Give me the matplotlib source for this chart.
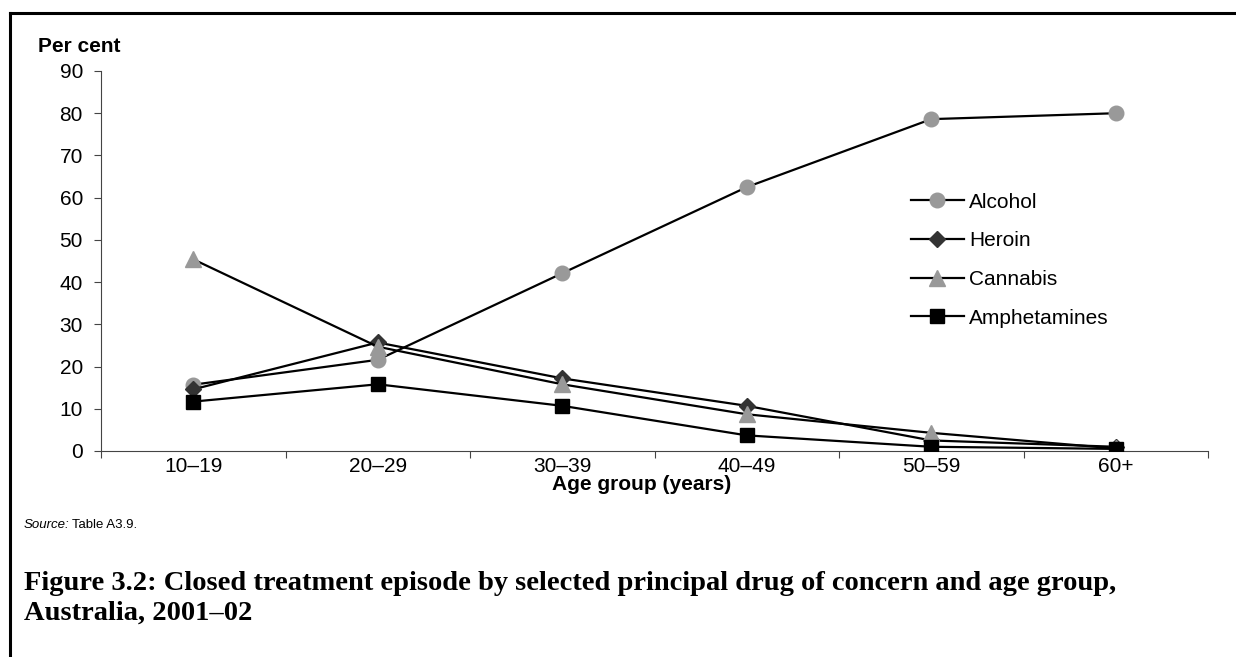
import numpy as np
import matplotlib.pyplot as plt
from matplotlib.lines import Line2D

plt.rcParams['font.family'] = ['Liberation Sans', 'DejaVu Sans']

# donnees
age_groups = ['10–19', '20–29', '30–39', '40–49', '50–59', '60+']
alcohol = [15.7, 21.6, 42.1, 62.5, 78.6, 80.0]
heroin = [14.6, 25.7, 17.2, 10.7, 2.5, 1.0]
cannabis = [45.4, 24.7, 15.8, 8.7, 4.3, 0.6]
amphetamines = [11.7, 15.8, 10.7, 3.7, 1.0, 0.5]

W, H = 1236, 657
fs = 15
fig = plt.figure(figsize=(W / 100, H / 100), dpi=100)
ax = fig.add_axes([101 / W, 1 - 451 / H, (1208 - 101) / W, 380 / H])

x = np.arange(len(age_groups))
ax.plot(x, alcohol, color='black', lw=1.6, marker='o', ms=10.5,
        mfc='#999999', mec='#999999', label='Alcohol', zorder=3)
ax.plot(x, heroin, color='black', lw=1.6, marker='D', ms=8,
        mfc='#333333', mec='#333333', label='Heroin', zorder=3)
ax.plot(x, cannabis, color='black', lw=1.6, marker='^', ms=11,
        mfc='#999999', mec='#999999', label='Cannabis', zorder=3)
ax.plot(x, amphetamines, color='black', lw=1.6, marker='s', ms=10,
        mfc='black', mec='black', label='Amphetamines', zorder=3)

ax.set_xlim(-0.5, len(age_groups) - 0.5)
ax.set_ylim(0, 90)
ax.set_yticks(np.arange(0, 91, 10))
ax.set_xticks(x)
ax.set_xticklabels(age_groups)
ax.set_xticks(np.arange(-0.5, len(age_groups)), minor=True)
ax.tick_params(axis='x', which='major', length=0, pad=4, labelsize=fs)
ax.tick_params(axis='x', which='minor', length=5, width=0.8, color='#444444')
ax.tick_params(axis='y', length=5, width=0.8, color='#444444', labelsize=fs, pad=8)

for s in ['top', 'right']:
    ax.spines[s].set_visible(False)
ax.spines['left'].set_color('#444444')
ax.spines['bottom'].set_color('#444444')
ax.spines['left'].set_linewidth(0.8)
ax.spines['bottom'].set_linewidth(0.8)

fig.text(38 / W, 1 - 46 / H, 'Per cent', fontsize=fs, fontweight='bold', va='center')
fig.text(642 / W, 1 - 485 / H, 'Age group (years)', fontsize=fs, fontweight='bold',
         ha='center', va='center')

ax.legend(loc='upper left', bbox_to_anchor=(892 / W, 1 - 174 / H),
          bbox_transform=fig.transFigure, frameon=False, fontsize=fs,
          handlelength=2.55, handletextpad=0.25, labelspacing=0.94)

fig.text(24 / W, 1 - 525 / H, 'Source:', fontsize=9.5, style='italic', va='center')
fig.text(72 / W, 1 - 525 / H, 'Table A3.9.', fontsize=9.5, va='center')

fig.text(24 / W, 1 - 583 / H,
         'Figure 3.2: Closed treatment episode by selected principal drug of concern and age group,',
         fontsize=20.5, fontweight='bold', family='Liberation Serif', va='center')
fig.text(24 / W, 1 - 613 / H, 'Australia, 2001–02',
         fontsize=20.5, fontweight='bold', family='Liberation Serif', va='center')

# cadre
fig.add_artist(Line2D([10 / W, 10 / W], [0, 1 - 13 / H], color='black', lw=2.2))
fig.add_artist(Line2D([10 / W, 1], [1 - 13 / H, 1 - 13 / H], color='black', lw=2.2))

fig.savefig('out.png', dpi=100)
